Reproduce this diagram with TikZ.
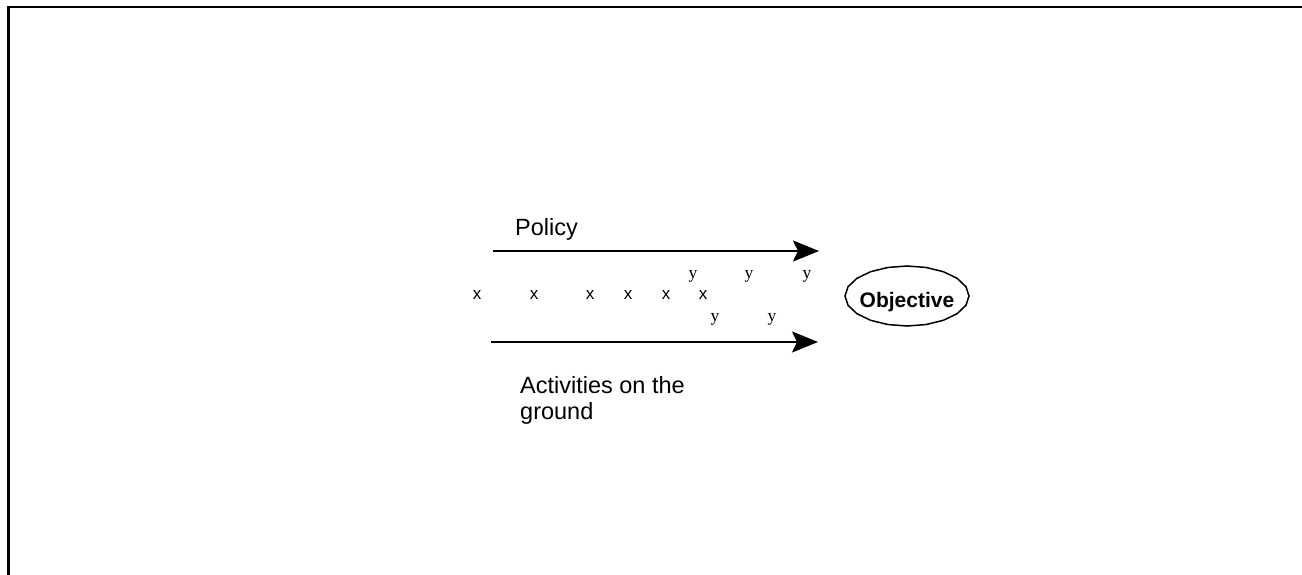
\documentclass[tikz,border=0pt]{standalone}
\usepackage{fontspec}
\setmainfont{Liberation Sans}
\newfontfamily\seriffont{Liberation Serif}
\usetikzlibrary{arrows.meta}
\begin{document}
\begin{tikzpicture}[x=1pt,y=-1pt,
  frameline/.style={line width=2.6pt},
  flow/.style={line width=2pt,-{Stealth[length=26pt,width=21pt,inset=5pt]}},
  label/.style={inner sep=0pt,font=\fontsize{23.5}{26}\selectfont,align=left},
  xmark/.style={inner sep=0pt,font=\fontsize{17}{19}\selectfont},
  ymark/.style={inner sep=0pt,font=\seriffont\fontsize{17.5}{19}\selectfont},
  goal/.style={inner sep=0pt,font=\bfseries\fontsize{21}{24}\selectfont}]
  \useasboundingbox (0,0) rectangle (1302,575);

  % open frame: top and left edges only
  \coordinate (fc) at (8.5,7);
  \coordinate (fr) at (1302,7);
  \coordinate (fb) at (8.5,575);
  \draw[frameline] (fr) -- (fc) -- (fb);

  % the two flows
  \coordinate (pa) at (493,251);
  \coordinate (pb) at (819,251);
  \coordinate (ga) at (491,342);
  \coordinate (gb) at (818,342);
  \draw[flow] (pa) -- (pb);
  \draw[flow] (ga) -- (gb);

  \node[label,anchor=base west] (policy) at (515,236) {Policy};
  \node[label,anchor=north west] (ground) at (520,376) {Activities on the\\ground};

  % scattered activities
  \foreach \px [count=\i] in {477,534,590,628,666,703}
    \node[xmark] (x\i) at (\px,295) {x};
  \node[ymark] (y1) at (693,276) {y};
  \node[ymark] (y2) at (749,276) {y};
  \node[ymark] (y3) at (807,276) {y};
  \node[ymark] (y4) at (715,319) {y};
  \node[ymark] (y5) at (772,319) {y};

  % objective
  \coordinate (oc) at (907,296);
  \draw[line width=1.5pt,shift={(oc)}]
    plot[samples=21,domain=0:360] ({62*cos(\x)},{30*sin(\x)}) -- cycle;
  \node[goal,anchor=base] (objective) at (907,307) {Objective};
\end{tikzpicture}
\end{document}
